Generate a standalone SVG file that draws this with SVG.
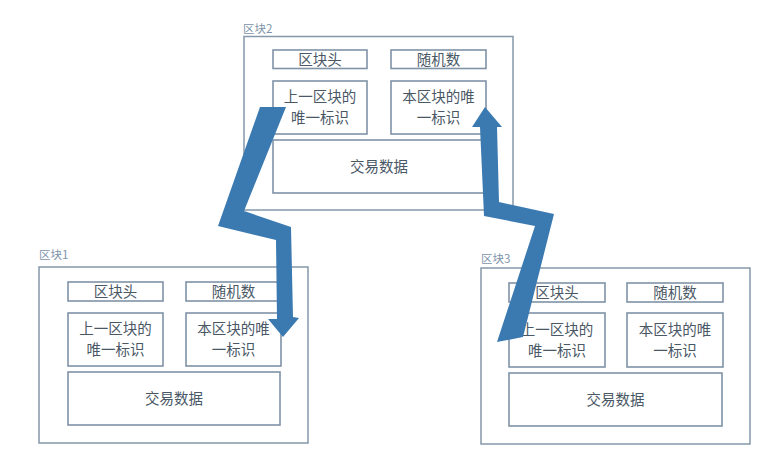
<svg xmlns="http://www.w3.org/2000/svg" width="766" height="459" viewBox="0 0 766 459">
<style>
.outer{fill:#fff;stroke:#8598ab;stroke-width:1.5}
.box{fill:#fff;stroke:#7f93a7;stroke-width:1.6}
.t{font-family:"Noto Sans CJK SC","Noto Sans",sans-serif;font-size:14.5px;fill:#4a5866;text-anchor:middle}
.lbl{font-family:"Noto Sans CJK SC","Noto Sans",sans-serif;font-size:11.5px;fill:#7d93aa}
.arrow{fill:#3b7ab1}
</style>
<rect width="766" height="459" fill="#fff"/>
<g id="block2">
<text class="lbl" x="243" y="33">区块2</text>
<rect class="outer" x="244" y="36.5" width="269" height="173.5"/>
<rect class="box" x="273" y="50" width="94" height="18.5"/>
<text class="t" x="320" y="64.5">区块头</text>
<rect class="box" x="391" y="50" width="95" height="18.5"/>
<text class="t" x="438.5" y="64.5">随机数</text>
<rect class="box" x="273" y="81" width="94" height="53"/>
<text class="t" x="320" y="102">上一区块的</text>
<text class="t" x="320" y="123">唯一标识</text>
<rect class="box" x="391" y="81" width="95" height="53"/>
<text class="t" x="438.5" y="102">本区块的唯</text>
<text class="t" x="438.5" y="123">一标识</text>
<rect class="box" x="273" y="140" width="212" height="53"/>
<text class="t" x="379" y="172">交易数据</text>
</g>
<g id="block1">
<text class="lbl" x="39" y="259">区块1</text>
<rect class="outer" x="39" y="267" width="269" height="176"/>
<rect class="box" x="68" y="282" width="95" height="19"/>
<text class="t" x="115.5" y="296.5">区块头</text>
<rect class="box" x="186" y="282" width="95" height="19"/>
<text class="t" x="233.5" y="296.5">随机数</text>
<rect class="box" x="68" y="313" width="95" height="53"/>
<text class="t" x="115.5" y="334">上一区块的</text>
<text class="t" x="115.5" y="355">唯一标识</text>
<rect class="box" x="186" y="313" width="95" height="53"/>
<text class="t" x="233.5" y="334">本区块的唯</text>
<text class="t" x="233.5" y="355">一标识</text>
<rect class="box" x="68" y="372" width="212" height="53"/>
<text class="t" x="174" y="404">交易数据</text>
</g>
<g id="block3">
<text class="lbl" x="481" y="263">区块3</text>
<rect class="outer" x="481" y="268" width="269" height="176"/>
<rect class="box" x="509" y="283" width="96" height="19"/>
<text class="t" x="557" y="297.5">区块头</text>
<rect class="box" x="627" y="283" width="96" height="19"/>
<text class="t" x="675" y="297.5">随机数</text>
<rect class="box" x="509" y="313" width="96" height="54"/>
<text class="t" x="557" y="334.5">上一区块的</text>
<text class="t" x="557" y="355.5">唯一标识</text>
<rect class="box" x="627" y="313" width="96" height="54"/>
<text class="t" x="675" y="334.5">本区块的唯</text>
<text class="t" x="675" y="355.5">一标识</text>
<rect class="box" x="509" y="373" width="213" height="53"/>
<text class="t" x="615.5" y="405">交易数据</text>
</g>
<g id="connectors">
<polygon class="arrow" points="260,107 286,107 244,211 291,227 293,317 299,318 283,337 268,319 277,319 276,240 218,226"/>
<polygon class="arrow" points="485,107 502,127 497,127 499,202 554,214 523,337 497,342 535,226 484,216 480,127 472,127"/>
</g>
</svg>
